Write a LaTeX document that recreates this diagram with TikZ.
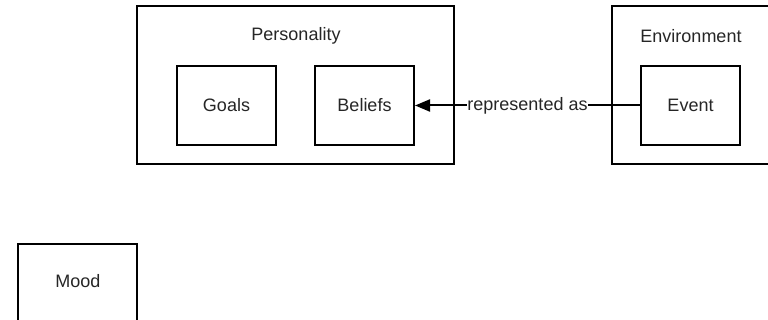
\documentclass[tikz,border=0pt]{standalone}
\usepackage{fontspec}
\setmainfont{Liberation Sans}
\usetikzlibrary{arrows.meta}
\begin{document}
\begin{tikzpicture}[x=1pt,y=-1pt,
  box/.style={draw=black,line width=2pt,fill=white,inner sep=0pt},
  lbl/.style={font=\fontsize{18}{21}\selectfont,text=black!85,inner sep=1pt},
  conn/.style={draw=black,line width=2pt}]
\useasboundingbox (0,0) rectangle (768,320);
\clip (0,0) rectangle (768,320);
\node[box,minimum width=317pt,minimum height=158pt] (pers) at (295.5,85) {};
\node[lbl] (perst) at (296,36) {Personality};
\node[box,minimum width=158pt,minimum height=158pt] (env) at (691,85) {};
\node[lbl] (envt) at (691,36) {Environment};
\node[box,lbl,minimum width=99pt,minimum height=79pt] (goals) at (226.5,105.5) {Goals};
\node[box,lbl,minimum width=99pt,minimum height=79pt] (beliefs) at (364.5,105.5) {Beliefs};
\node[box,lbl,minimum width=99pt,minimum height=79pt] (event) at (690.5,105.5) {Event};
\node[box,minimum width=119pt,minimum height=158pt] (mood) at (77.5,323) {};
\node[lbl] (moodt) at (78,281) {Mood};
\draw[conn,-{Triangle[length=15pt,width=12pt]}] (event.west) -- node[lbl,fill=white,inner sep=0.5pt] {represented as} (beliefs.east);
\end{tikzpicture}
\end{document}
